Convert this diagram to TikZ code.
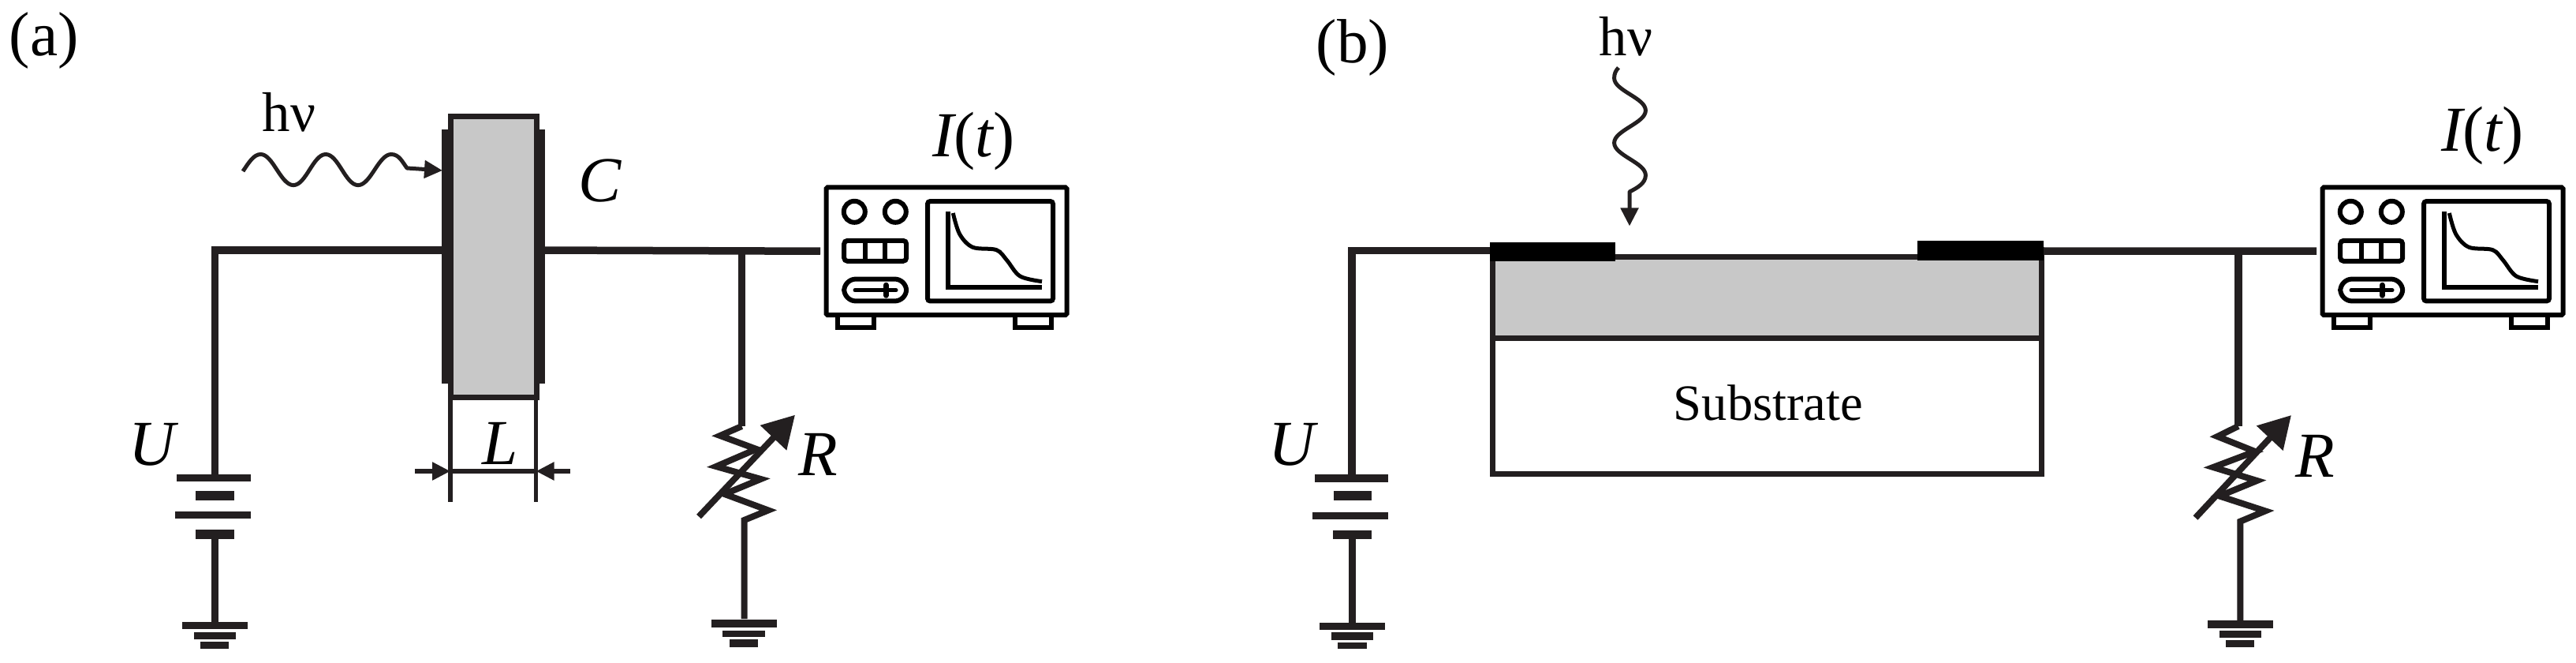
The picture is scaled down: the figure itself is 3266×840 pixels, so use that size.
\documentclass[tikz,border=0pt]{standalone}
\usepackage{fontspec}
\setmainfont{Liberation Serif}
\usetikzlibrary{arrows.meta}
\definecolor{ink}{HTML}{231F20}
\definecolor{film}{HTML}{C8C8C8}
\def\px{0.24pt}
\newcommand{\plt}[4]{\fill[ink] (#1,#2) rectangle (#3,#4);}
\tikzset{
  wire/.style={draw=ink,line width=9.5*\px,line join=miter},
  zig/.style={draw=ink,line width=8*\px,line join=miter,miter limit=6},
  thin/.style={draw=ink,line width=5.5*\px},
  wave/.style={draw=ink,line width=5*\px,line join=round},
  small tip/.style={-{Triangle[length=23*\px,width=22*\px]}},
  big tip/.style={-{Triangle[length=40*\px,width=44*\px]}},
  lab/.style={inner sep=0pt,anchor=base west,text=black,font=\fontsize{19.5pt}{22pt}\selectfont\itshape},
  rm/.style={inner sep=0pt,anchor=base west,text=black,font=\fontsize{19pt}{22pt}\selectfont},
  hv/.style={inner sep=0pt,anchor=base west,text=black,font=\fontsize{17pt}{20pt}\selectfont},
  block/.style={draw=ink,line width=7*\px,inner sep=0pt,outer sep=0pt},
  body/.style={draw=black,line width=6*\px,rounded corners=0.4pt,inner sep=0pt,outer sep=0pt,minimum width=305*\px,minimum height=161.5*\px},
  part/.style={draw=black,line width=6*\px,fill=white},
  pics/scopeunit/.style={code={
    \draw[part] (-152.5,-80.75) ++(14,161.5) rectangle ++(46,15.5);
    \draw[part] (-152.5,-80.75) ++(239,161.5) rectangle ++(46,15.5);
    \draw[part] (-116.7,-49.95) circle (13.5);
    \draw[part] (-64.7,-49.95) circle (13.5);
    \draw[part,rounded corners=1pt] (-129.8,-13.4) rectangle (-50.8,12.6);
    \draw[line width=6*\px] (-103,-13.4) -- (-103,12.6) (-77.7,-13.4) -- (-77.7,12.6);
    \draw[part,rounded corners=3.6pt] (-129.8,35.3) rectangle (-50.8,63.2);
    \draw[line width=5*\px,line cap=round] (-116,49.4) -- (-64,49.4);
    \draw[line width=7*\px,line cap=round] (-76.7,43) -- (-76.7,56);
    \draw[part,line width=6*\px,rounded corners=0.8pt] (-24,-63.2) rectangle (135,63.2);
    \draw[line width=6*\px,line join=miter] (2,-50) -- (2,46) -- (121,46);
    \draw[line width=5*\px] plot[smooth,tension=0.55] coordinates {(8.3,-48.25) (16.7,-21.6) (33.3,-5) (63.3,-1.6) (76.7,11.7) (93.3,31.7) (121,38.4)};
  }}
}
\begin{document}
\begin{tikzpicture}[x=\px,y=-\px]
\useasboundingbox (0,0) rectangle (3266,840);

% ---------- panel (a) ----------
\node[rm] (taga) at (11,71) {(a)};
\node[hv] (hva) at (332,167) {hν};
\node[lab] (Ca) at (733,255) {C};
\node[lab] (Ua) at (163,589) {U};
\node[lab] (La) at (611,588) {L};
\node[lab] (Ra) at (1012,602.6) {R};
\node[lab] (Ia) at (1182,199) {I{\upshape(}t{\upshape)}};

\fill[ink] (560,164) rectangle (575,486);
\fill[ink] (676.5,164) rectangle (691,486);
\node[block,fill=film,minimum width=109*\px,minimum height=355*\px] (capa) at (625.5,325.5) {};
\coordinate (ca1) at (565,317);
\coordinate (ca2) at (686,317);
\coordinate (ca0) at (272.5,317);
\coordinate (cab) at (272.5,606);
\coordinate (ja) at (940.5,317);
\coordinate (ra1) at (940.5,540);

\draw[wire] (cab) -- (ca0) -- (ca1);
\node[body] (osca) at (1200,318.25) {};
\path (osca.center) pic {scopeunit};
\coordinate (oa) at ([xshift=-7.5*\px]osca.west);
\draw[wire] (ca2) -- (oa);
\draw[wire] (ja) -- (ra1);

% battery and ground (a)
\plt{224}{601}{318}{610}
\plt{248}{622}{297}{634}
\plt{222}{648}{318}{657}
\plt{248}{671}{297}{683}
\coordinate (ba1) at (272.5,683);
\coordinate (ga1) at (272.5,789);
\draw[wire] (ba1) -- (ga1);
\plt{231}{788}{314}{797}
\plt{246}{801}{299}{810}
\plt{254}{813}{290}{822}

% wave (a)
\coordinate (wa0) at (308,217);
\coordinate (ta) at (561,216);
\draw[wave,small tip] (wa0) .. controls (316,205) and (322,195.5) .. (330.6,195.5)
  .. controls (346,195.5) and (356,234.6) .. (372,234.6)
  .. controls (388,234.6) and (397,195.5) .. (413,195.5)
  .. controls (429,195.5) and (438,234.6) .. (454,234.6)
  .. controls (470,234.6) and (480,195.5) .. (496,195.5)
  .. controls (506,195.5) and (510,205) .. (516,213)
  -- (ta);

% dimension L
\coordinate (da1) at (571,506); \coordinate (da2) at (571,636);
\coordinate (db1) at (679.6,506); \coordinate (db2) at (679.6,636);
\coordinate (dl) at (571,597); \coordinate (dr) at (679.6,597);
\draw[thin] (da1) -- (da2) (db1) -- (db2) (dl) -- (dr);
\coordinate (dl0) at (526,597); \coordinate (dr0) at (723,597);
\draw[thin,small tip] (dl0) -- (dl);
\draw[thin,small tip] (dr0) -- (dr);

% resistor (a)
\coordinate (ra2) at (943.5,784);
\draw[zig] (ra1) -- (913,552) -- (959,569) -- (908,591) -- (964.5,607) -- (918.6,626) -- (974,646.5) -- (943.5,659) -- (ra2);
\coordinate (ara) at (886,654.5); \coordinate (arb) at (1008,525.7);
\draw[zig,big tip] (ara) -- (arb);
\plt{902}{785}{985}{795}
\plt{916}{798.5}{970}{807}
\plt{925}{810}{961}{820}

% ---------- panel (b) ----------
\node[rm] (tagb) at (1668,80) {(b)};
\node[hv] (hvb) at (2027,70.7) {hν};
\node[lab] (Ub) at (1608,589) {U};
\node[lab] (Rb) at (2910,604) {R};
\node[lab] (Ib) at (3095,192) {I{\upshape(}t{\upshape)}};

\coordinate (cb0) at (1714,317.6);
\coordinate (cb1) at (1890,317.6);
\coordinate (cbb) at (1714,606);
\draw[wire] (cbb) -- (cb0) -- (cb1);

\node[block,fill=film,minimum width=696*\px,minimum height=102.5*\px] (layb) at (2240,376.75) {};
\node[block,fill=white,minimum width=696*\px,minimum height=172*\px] (subb) at (2240,514) {};
\node[inner sep=0pt,anchor=base,text=black,font=\fontsize{15.5pt}{20pt}\selectfont] (subt) at (2242,532) {Substrate};
\fill[black] (1888.5,307) rectangle (2048,331);
\fill[black] (2431,305) rectangle (2591,330);

\node[body] (oscb) at (3097,318.25) {};
\path (oscb.center) pic {scopeunit};
\coordinate (ob) at ([xshift=-7.5*\px]oscb.west);
\coordinate (cb2) at (2591,318);
\draw[wire] (cb2) -- (ob);
\coordinate (jb) at (2837.8,318);
\coordinate (rb1) at (2837.8,540);
\draw[wire] (jb) -- (rb1);

% battery and ground (b)
\plt{1666.5}{601}{1760}{611}
\plt{1691}{622}{1739}{634}
\plt{1664}{649}{1760}{658}
\plt{1690}{672}{1739}{683}
\coordinate (bb1) at (1714.5,683);
\coordinate (gb1) at (1714.5,790);
\draw[wire] (bb1) -- (gb1);
\plt{1673}{789}{1756}{798}
\plt{1688}{801}{1741}{811}
\plt{1696}{814}{1733}{822}

% wave (b)
\coordinate (wb0) at (2052,85.7);
\coordinate (tb) at (2066,286.5);
\draw[wave,small tip] (wb0) .. controls (2048,90) and (2046.6,94) .. (2046.6,99)
  .. controls (2046.6,115) and (2086.4,124) .. (2086.4,140)
  .. controls (2086.4,156) and (2046.6,165) .. (2046.6,181)
  .. controls (2046.6,197) and (2086.4,206) .. (2086.4,222)
  .. controls (2086.4,232) and (2076,238) .. (2066,243)
  -- (tb);

% resistor (b)
\coordinate (rb2) at (2840.4,787);
\draw[zig] (rb1) -- (2811.4,553) -- (2859,572) -- (2806,592) -- (2861.5,609) -- (2814,628.5) -- (2872,647.4) -- (2840.4,660.6) -- (rb2);
\coordinate (arc) at (2783.5,656); \coordinate (ard) at (2905,526);
\draw[zig,big tip] (arc) -- (ard);
\plt{2799}{786}{2882}{796}
\plt{2814}{799.4}{2867}{808}
\plt{2822}{811}{2858}{820}
\end{tikzpicture}
\end{document}
